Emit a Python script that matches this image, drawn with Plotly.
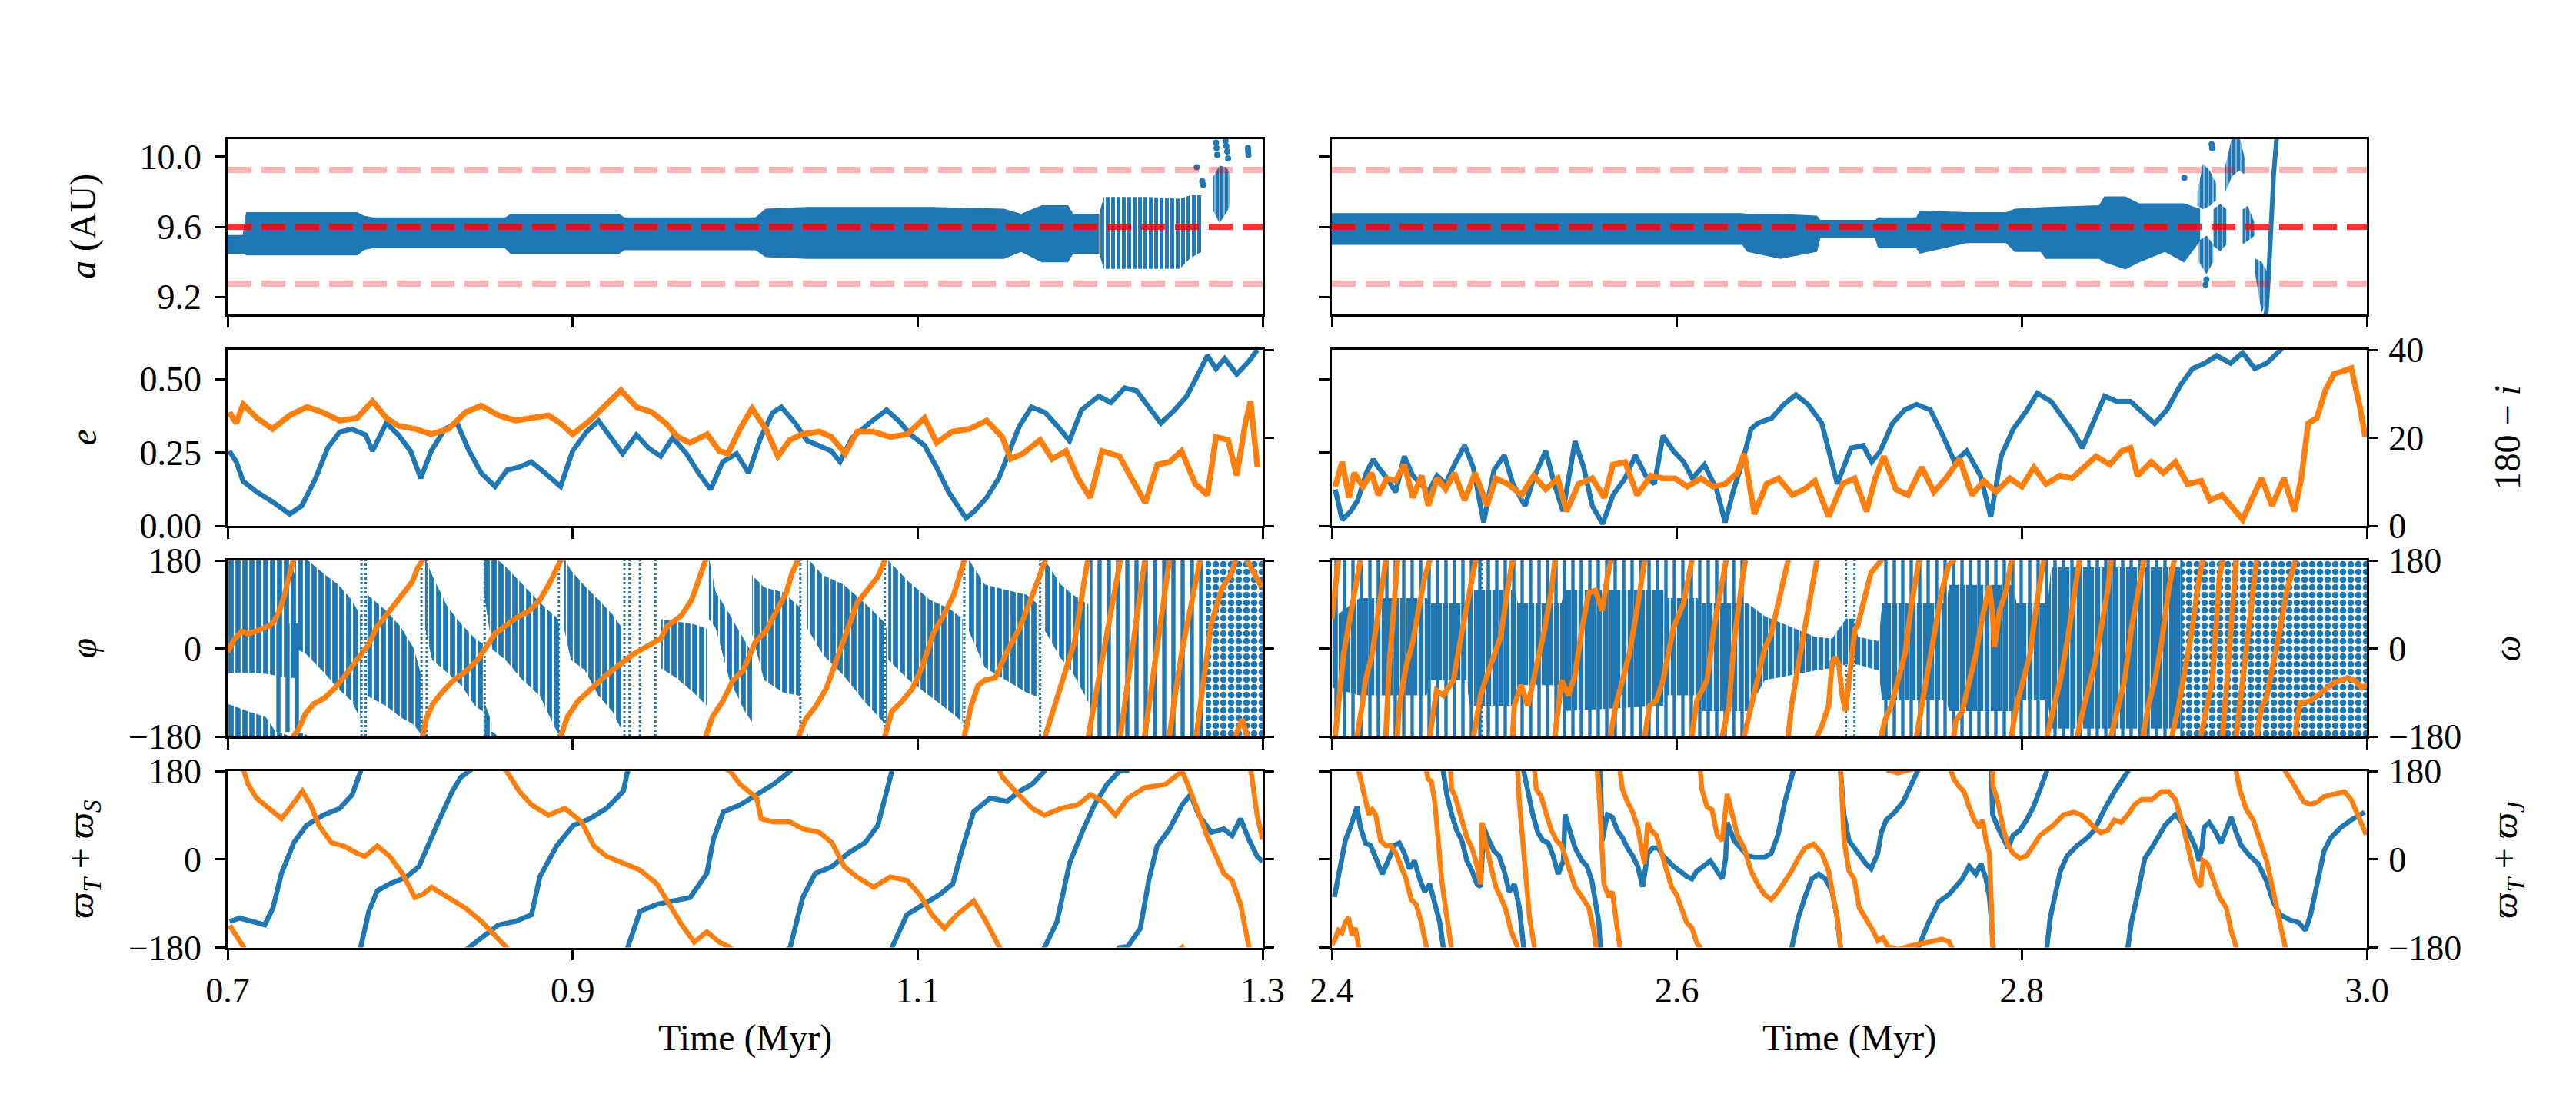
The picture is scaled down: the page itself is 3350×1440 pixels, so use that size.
import numpy as np
import plotly.graph_objects as go

# ======================= DATA =======================
# ---- Panel 1: semi-major axis a (AU); blue band envelopes ----
aL_t  = [0.700, 0.709, 0.711, 0.775, 0.779, 0.784, 0.861, 0.864, 0.927, 0.930,
         1.006, 1.012, 1.036, 1.108, 1.150, 1.160, 1.172, 1.187, 1.190, 1.205]
aL_lo = [9.45, 9.45, 9.44, 9.44, 9.47, 9.48, 9.48, 9.45, 9.45, 9.47,
         9.47, 9.43, 9.42, 9.42, 9.42, 9.46, 9.40, 9.40, 9.45, 9.45]
aL_hi = [9.55, 9.55, 9.68, 9.68, 9.66, 9.65, 9.65, 9.67, 9.67, 9.65,
         9.65, 9.70, 9.71, 9.71, 9.70, 9.67, 9.72, 9.72, 9.67, 9.67]
aLx_t  = [1.205, 1.208, 1.234, 1.252, 1.258, 1.265]     # loose, scattered part
aLx_lo = [9.45, 9.36, 9.36, 9.36, 9.42, 9.46]
aLx_hi = [9.67, 9.77, 9.77, 9.76, 9.78, 9.78]
aLc_t  = [1.271, 1.275, 1.279, 1.281]
aLc_lo = [9.70, 9.62, 9.68, 9.72]
aLc_hi = [9.88, 9.95, 9.94, 9.90]
aLp_t = [1.2618, 1.2650, 1.2655, 1.2730, 1.2733, 1.2737, 1.2785, 1.2790, 1.2795, 1.2800, 1.2915, 1.2916, 1.2918]
aLp_a = [9.94, 9.86, 9.84, 10.08, 10.05, 10.01, 10.09, 10.06, 10.03, 9.99, 10.05, 10.03, 10.01]

aR_t  = [2.400, 2.638, 2.641, 2.660, 2.681, 2.683, 2.715, 2.717, 2.739, 2.741,
         2.768, 2.791, 2.796, 2.811, 2.814, 2.845, 2.848, 2.860, 2.868, 2.883,
         2.894, 2.903]
aR_lo = [9.50, 9.50, 9.46, 9.42, 9.46, 9.54, 9.54, 9.48, 9.48, 9.45,
         9.51, 9.51, 9.46, 9.46, 9.42, 9.42, 9.40, 9.36, 9.40, 9.46,
         9.40, 9.52]
aR_hi = [9.675, 9.675, 9.67, 9.67, 9.66, 9.636, 9.636, 9.65, 9.65, 9.69,
         9.68, 9.68, 9.70, 9.71, 9.71, 9.72, 9.77, 9.77, 9.73, 9.73,
         9.73, 9.70]
aRc_t  = [2.9018, 2.905, 2.909, 2.9125, None, 2.9025, 2.907, 2.911, None,
          2.911, 2.915, 2.9186, None, 2.918, 2.922, 2.926, 2.929, None,
          2.928, 2.931, 2.935, None, 2.935, 2.939, 2.943]
aRc_lo = [9.72, 9.70, 9.72, 9.75, None, 9.40, 9.33, 9.40, None,
          9.49, 9.46, 9.50, None, 9.80, 9.89, 9.92, 9.90, None,
          9.50, 9.52, 9.55, None, 9.35, 9.11, 9.20]
aRc_hi = [9.80, 9.96, 9.92, 9.85, None, 9.52, 9.55, 9.50, None,
          9.70, 9.73, 9.70, None, 9.95, 10.12, 10.12, 10.00, None,
          9.70, 9.72, 9.62, None, 9.42, 9.40, 9.33]
aRr_t = [2.9405, 2.9417, 2.9432, 2.9447, 2.9460, 2.9478]
aRr_a = [9.08, 9.11, 9.35, 9.65, 9.90, 10.12]
aRp_t = [2.8942, 2.9100, 2.9103, 2.9065, 2.9070]
aRp_a = [9.88, 10.07, 10.05, 9.27, 9.30]
a_res = [9.275, 9.600, 9.925]          # dashed reference lines

# ---- Panel 2: eccentricity e (blue) and 180 - i (orange) ----
eL_t = [0.701, 0.705, 0.709, 0.717, 0.726, 0.736, 0.743, 0.751, 0.758, 0.765,
        0.772, 0.780, 0.784, 0.792, 0.799, 0.806, 0.812, 0.818, 0.826, 0.833,
        0.840, 0.847, 0.855, 0.862, 0.869, 0.876, 0.884, 0.893, 0.900, 0.908,
        0.915, 0.922, 0.929, 0.937, 0.944, 0.951, 0.958, 0.966, 0.973, 0.980,
        0.987, 0.995, 1.002, 1.009, 1.016, 1.021, 1.029, 1.036, 1.043, 1.050,
        1.055, 1.062, 1.072, 1.082, 1.089, 1.096, 1.104, 1.111, 1.118, 1.125,
        1.128, 1.133, 1.140, 1.147, 1.152, 1.159, 1.166, 1.174, 1.181, 1.188,
        1.195, 1.205, 1.212, 1.220, 1.227, 1.234, 1.241, 1.249, 1.256, 1.261,
        1.268, 1.273, 1.278, 1.285, 1.292, 1.297]
eL_v = [0.255, 0.218, 0.152, 0.115, 0.082, 0.040, 0.068, 0.162, 0.265, 0.320,
        0.330, 0.310, 0.255, 0.350, 0.310, 0.255, 0.162, 0.255, 0.330, 0.350,
        0.255, 0.180, 0.134, 0.190, 0.200, 0.218, 0.180, 0.134, 0.255, 0.320,
        0.358, 0.300, 0.246, 0.310, 0.265, 0.237, 0.300, 0.246, 0.180, 0.124,
        0.218, 0.246, 0.180, 0.300, 0.386, 0.405, 0.350, 0.290, 0.274, 0.255,
        0.218, 0.300, 0.350, 0.395, 0.358, 0.310, 0.274, 0.199, 0.115, 0.050,
        0.026, 0.050, 0.096, 0.162, 0.237, 0.340, 0.405, 0.386, 0.340, 0.290,
        0.395, 0.442, 0.420, 0.470, 0.460, 0.405, 0.350, 0.395, 0.442, 0.498,
        0.580, 0.535, 0.570, 0.517, 0.560, 0.600]
iL_t = [0.701, 0.705, 0.709, 0.717, 0.726, 0.736, 0.746, 0.755, 0.765, 0.775,
        0.784, 0.792, 0.799, 0.809, 0.818, 0.828, 0.838, 0.847, 0.857, 0.867,
        0.876, 0.886, 0.893, 0.900, 0.910, 0.920, 0.928, 0.937, 0.946, 0.954,
        0.961, 0.968, 0.978, 0.985, 0.990, 0.997, 1.004, 1.012, 1.019, 1.026,
        1.033, 1.043, 1.050, 1.058, 1.065, 1.074, 1.084, 1.094, 1.104, 1.111,
        1.120, 1.130, 1.140, 1.149, 1.154, 1.161, 1.171, 1.178, 1.186, 1.193,
        1.200, 1.207, 1.217, 1.224, 1.232, 1.239, 1.246, 1.253, 1.261, 1.268,
        1.273, 1.280, 1.285, 1.290, 1.293, 1.297]
iL_v = [25.8, 23.3, 27.6, 24.5, 22.0, 25.1, 27.0, 25.8, 23.9, 24.5,
        28.3, 24.5, 22.7, 22.0, 20.8, 22.0, 25.8, 27.3, 25.1, 23.9,
        24.5, 25.1, 23.3, 20.8, 23.9, 27.6, 30.8, 27.0, 25.8, 23.3,
        20.2, 18.9, 20.8, 17.0, 16.4, 22.0, 26.7, 22.0, 15.8, 19.5,
        20.8, 21.4, 20.2, 16.4, 21.4, 21.4, 20.2, 20.8, 24.5, 18.9,
        21.4, 22.0, 23.9, 20.2, 15.2, 16.4, 19.5, 15.2, 17.0, 10.8,
        6.4, 17.0, 15.8, 10.8, 5.2, 13.9, 14.5, 17.0, 9.5, 7.0,
        20.2, 19.5, 11.4, 23.3, 28.3, 13.3]
eR_t = [2.402, 2.406, 2.411, 2.415, 2.420, 2.424, 2.427, 2.432, 2.437, 2.442,
        2.447, 2.452, 2.456, 2.461, 2.466, 2.471, 2.477, 2.482, 2.488, 2.494,
        2.500, 2.505, 2.512, 2.517, 2.524, 2.529, 2.534, 2.541, 2.546, 2.551,
        2.557, 2.563, 2.570, 2.576, 2.582, 2.587, 2.592, 2.598, 2.604, 2.609,
        2.616, 2.623, 2.628, 2.633, 2.638, 2.643, 2.647, 2.655, 2.662, 2.669,
        2.676, 2.684, 2.688, 2.693, 2.701, 2.708, 2.713, 2.718, 2.725, 2.732,
        2.739, 2.747, 2.754, 2.761, 2.768, 2.776, 2.782, 2.788, 2.795, 2.802,
        2.809, 2.817, 2.824, 2.831, 2.835, 2.841, 2.848, 2.855, 2.863, 2.870,
        2.877, 2.884, 2.892, 2.899, 2.906, 2.913, 2.921, 2.928, 2.935, 2.942,
        2.950, 2.953]
eR_v = [0.124, 0.020, 0.050, 0.087, 0.180, 0.227, 0.199, 0.162, 0.115, 0.237,
        0.171, 0.143, 0.115, 0.171, 0.143, 0.208, 0.274, 0.199, 0.012, 0.190,
        0.240, 0.143, 0.068, 0.162, 0.255, 0.143, 0.050, 0.288, 0.199, 0.068,
        0.007, 0.105, 0.162, 0.240, 0.171, 0.143, 0.307, 0.255, 0.218, 0.162,
        0.208, 0.124, 0.012, 0.124, 0.218, 0.330, 0.350, 0.367, 0.414, 0.447,
        0.414, 0.350, 0.255, 0.143, 0.265, 0.274, 0.218, 0.255, 0.349, 0.395,
        0.414, 0.395, 0.310, 0.218, 0.255, 0.171, 0.030, 0.237, 0.330, 0.386,
        0.452, 0.424, 0.367, 0.310, 0.265, 0.349, 0.442, 0.424, 0.424, 0.386,
        0.349, 0.395, 0.480, 0.536, 0.554, 0.580, 0.554, 0.590, 0.536, 0.554,
        0.600, 0.630]
iR_t = [2.402, 2.406, 2.410, 2.413, 2.418, 2.423, 2.427, 2.432, 2.437, 2.442,
        2.447, 2.452, 2.456, 2.461, 2.466, 2.471, 2.477, 2.483, 2.490, 2.495,
        2.502, 2.510, 2.517, 2.524, 2.531, 2.536, 2.543, 2.551, 2.558, 2.563,
        2.570, 2.577, 2.585, 2.592, 2.599, 2.606, 2.614, 2.621, 2.628, 2.635,
        2.639, 2.645, 2.652, 2.659, 2.667, 2.674, 2.680, 2.688, 2.696, 2.703,
        2.710, 2.715, 2.720, 2.727, 2.734, 2.742, 2.749, 2.756, 2.764, 2.771,
        2.778, 2.785, 2.793, 2.800, 2.807, 2.814, 2.822, 2.829, 2.836, 2.843,
        2.851, 2.858, 2.863, 2.867, 2.875, 2.882, 2.889, 2.896, 2.904, 2.909,
        2.916, 2.923, 2.928, 2.933, 2.939, 2.945, 2.952, 2.958, 2.962, 2.966,
        2.971, 2.976, 2.981, 2.986, 2.991, 2.996, 2.999]
iR_v = [8.9, 14.5, 6.4, 12.0, 8.9, 12.0, 7.0, 10.8, 10.2, 13.9,
        6.4, 11.4, 4.6, 10.8, 8.3, 12.0, 5.8, 12.0, 4.6, 10.8,
        9.5, 7.0, 11.4, 8.3, 10.8, 3.3, 9.5, 10.8, 6.4, 13.9,
        14.5, 7.0, 11.4, 10.8, 10.8, 8.9, 10.8, 8.9, 9.5, 12.0,
        16.4, 2.7, 9.5, 10.8, 7.0, 8.3, 10.2, 2.1, 9.5, 10.8,
        3.3, 10.8, 15.8, 8.3, 7.0, 13.3, 7.7, 10.8, 15.2, 7.0,
        10.2, 7.7, 10.8, 8.9, 13.3, 9.5, 11.4, 10.8, 13.3, 15.8,
        13.9, 17.0, 17.7, 11.4, 14.5, 12.0, 14.5, 9.5, 10.2, 5.8,
        7.0, 3.9, 1.4, 5.8, 10.8, 4.6, 10.8, 3.3, 10.8, 23.3,
        24.5, 30.8, 34.5, 35.1, 35.8, 27.0, 20.2]

# ---- Panel 3: resonant angle phi (blue, dense libration bands) ----
# band polygons: time, lower and upper envelope (deg, may exceed 180 -> wraps)
phiL_t  = [0.700, 0.712, 0.722, 0.727, 0.736, 0.739, None,
           0.739, 0.745, 0.756, 0.764, 0.772, 0.777, None,
           0.781, 0.792, 0.800, 0.808, 0.813, None,
           0.8145, 0.8185, 0.8275, 0.8355, 0.8435, 0.848, None,
           0.849, 0.853, None,
           0.8485, 0.8535, 0.861, 0.871, 0.881, 0.891, 0.893, None,
           0.895, 0.899, 0.907, 0.915, 0.923, 0.929, None,
           0.951, 0.960, 0.970, 0.978, None,
           0.979, 0.983, 0.991, 1.000, 1.004, None,
           1.004, 1.011, 1.022, 1.032, None,
           1.036, 1.045, 1.057, 1.069, 1.080, 1.082, None,
           1.083, 1.095, 1.107, 1.119, 1.126, None,
           1.129, 1.139, 1.151, 1.163, 1.170, None,
           1.173, 1.183, 1.190, 1.199]
phiL_lo = [-50, -50, -52, -55, -60, -60, None,
           0, -10, -50, -82, -108, -145, None,
           -97, -118, -140, -156, -180, None,
           41, -23, -50, -76, -118, -129, None,
           -180, -180, None,
           115, -2, -23, -65, -97, -171, -180, None,
           41, -23, -44, -97, -129, -171, None,
           -40, -60, -90, -118, None,
           60, 41, -65, -130, -150, None,
           30, -65, -90, -97, None,
           41, -12, -55, -108, -150, -175, None,
           -23, -65, -97, -130, -150, None,
           41, -39, -65, -90, -100, None,
           41, -20, -50, -110]
phiL_hi = [247, 231, 220, 194, 180, 150, None,
           190, 185, 152, 131, 99, 67, None,
           110, 77, 46, 0, -65, None,
           185, 150, 85, 50, 20, 10, None,
           -112, -150, None,
           185, 190, 168, 131, 94, 62, 40, None,
           185, 160, 128, 100, 70, 40, None,
           60, 55, 50, 40, None,
           185, 115, 70, 14, -10, None,
           150, 125, 115, 83, None,
           185, 150, 131, 94, 56, 40, None,
           180, 136, 100, 80, 60, None,
           185, 131, 120, 110, 90, None,
           185, 131, 110, 90]
phiL_sparse_t  = [0.727, 0.744, None, 1.200, 1.267]
phiL_sparse_lo = [-171, -171, None, -180, -180]
phiL_sparse_hi = [51, 51, None, 180, 180]
phiL_chaos_t = [1.267, 1.300]
phiL_lines = [0.7776, 0.7800, 0.8124, 0.8154, 0.8490, 0.8920, 0.9300, 0.9330,
              0.9390, 0.9480, 1.0320, 1.0810, 1.1270, 1.1710]

phiR_core_t  = [2.400, 2.416, 2.455, 2.457, 2.478, 2.480, 2.506, 2.508, 2.533, 2.535,
                2.592, 2.594, 2.612, 2.614, 2.641, 2.651, 2.680, 2.690, 2.698, 2.703,
                2.705, 2.717, 2.719, 2.756, 2.758, 2.795, 2.797, 2.815, 2.817, 2.893]
phiR_core_lo = [-80, -96, -96, -65, -65, -117, -117, -75, -75, -128,
                -117, -96, -96, -128, -128, -65, -45, -40, -33, -33,
                -33, -45, -106, -106, -128, -128, -106, -106, -164, -164]
phiR_core_hi = [60, 103, 103, 92, 92, 119, 119, 92, 92, 119,
                119, 103, 103, 92, 92, 66, 24, 20, 61, 61,
                24, 15, 92, 92, 130, 130, 92, 92, 166, 166]
phiR_outer_t  = [2.400, 2.641, None, 2.718, 2.893]
phiR_outer_lo = [-180, -180, None, -180, -180]
phiR_outer_hi = [180, 180, None, 180, 180]
phiR_chaos_t = [2.893, 3.000]
phiR_lines = [2.4025, 2.4870, 2.5350, 2.6980, 2.7030]

# ---- Panel 3: omega (orange), readings in [-180, 180] ----
wL_t = [0.700, 0.704, 0.708, 0.712, 0.716, 0.720, 0.724, 0.727, 0.730, 0.733,
        0.736, 0.738, 0.741, 0.745, 0.750, 0.756, 0.762, 0.768, 0.774, 0.778,
        0.782, 0.786, 0.792, 0.798, 0.803, 0.807, 0.810, 0.813, 0.815, 0.819,
        0.825, 0.831, 0.839, 0.845, 0.849, 0.855, 0.861, 0.867, 0.875, 0.881,
        0.887, 0.891, 0.893, 0.897, 0.903, 0.911, 0.919, 0.927, 0.935, 0.943,
        0.951, 0.955, 0.963, 0.969, 0.973, 0.977, 0.981, 0.987, 0.993, 0.999,
        1.006, 1.012, 1.018, 1.024, 1.027, 1.031, 1.035, 1.041, 1.047, 1.053,
        1.059, 1.065, 1.071, 1.077, 1.081, 1.085, 1.091, 1.097, 1.103, 1.109,
        1.115, 1.121, 1.127, 1.131, 1.135, 1.139, 1.145, 1.151, 1.159, 1.165,
        1.171, 1.174, 1.179, 1.185, 1.191, 1.197, 1.199, 1.2035, 1.208, 1.2125,
        1.2175, 1.221, 1.2245, 1.228, 1.2315, 1.235, 1.2385, 1.242, 1.2455, 1.2495,
        1.2535, 1.2575, 1.2615, 1.2663, 1.2702, 1.2762, 1.2822, 1.2842, 1.2882, 1.2911,
        1.2941, 1.2981, 1.2995]
wL_v = [-7, 19, 35, 30, 35, 41, 46, 56, 77, 110,
        152, 180, -166, -134, -113, -102, -82, -56, -29, -12,
        9, 41, 67, 94, 115, 136, 163, 180, -145, -113,
        -87, -65, -44, -23, -2, 30, 46, 62, 77, 99,
        136, 168, 180, -140, -108, -82, -56, -34, -12, 4,
        20, 46, 67, 99, 136, 180, -140, -108, -65, -44,
        14, 35, 77, 115, 152, 180, -145, -118, -82, -23,
        41, 94, 120, 147, 180, -129, -108, -82, -34, 30,
        67, 110, 180, -118, -76, -65, -60, -12, 41, 94,
        147, 180, -118, -56, 14, 147, 180, -90, 0, 90,
        180, -90, 0, 90, 180, -90, 0, 90, 180, -90,
        0, 90, 180, -55, 50, 120, 155, 180, -145, 180,
        160, 130, 125]
wR_t = [2.3999, 2.4019, 2.4038, 2.4068, 2.4107, 2.4136, 2.4146,
        2.4176, 2.4195, 2.4234, 2.4274, 2.4303, 2.4313,
        2.4332, 2.4352, 2.4372, 2.4381,
        2.4391, 2.4430, 2.4470, 2.4509, 2.4538, 2.4568,
        2.4607, 2.4646, 2.4705, 2.4744, 2.4783, 2.4822,
        2.4862, 2.4901, 2.4979, 2.5018, 2.5048,
        2.5058, 2.5097, 2.5136, 2.5175, 2.5234, 2.5273, 2.5293,
        2.5312, 2.5332, 2.5371, 2.5410, 2.5450, 2.5489, 2.5528, 2.5567, 2.5597, 2.5616,
        2.5646, 2.5685, 2.5724, 2.5763, 2.5802, 2.5812,
        2.5842, 2.5881, 2.5920, 2.5979, 2.6038, 2.6087,
        2.6116, 2.6175, 2.6214, 2.6253, 2.6263,
        2.6302, 2.6332, 2.6371, 2.6390,
        2.6410, 2.6469, 2.6508, 2.6547, 2.6586, 2.6626, 2.6645,
        2.6665, 2.6704, 2.6743, 2.6782, 2.6812,
        2.6841, 2.6880, 2.6900, 2.6920, 2.6939, 2.6959, 2.6978, 2.6998, 2.7033,
        2.7047, 2.7087, 2.7126, 2.7185,
        2.7204, 2.7243, 2.7283, 2.7322, 2.7361, 2.7390,
        2.7420, 2.7459, 2.7498, 2.7537, 2.7577, 2.7606,
        2.7616, 2.7655, 2.7694, 2.7733, 2.7773, 2.7812, 2.7831, 2.7841, 2.7871, 2.7910, 2.7939,
        2.7969, 2.8008, 2.8047, 2.8086, 2.8145,
        2.8184, 2.8223, 2.8263, 2.8302, 2.8321,
        2.8361, 2.8419, 2.8459, 2.8498, 2.8517,
        2.8557, 2.8596, 2.8635, 2.8674, 2.8704,
        2.8733, 2.8772, 2.8811, 2.8851, 2.8870,
        2.8909, 2.8949, 2.8988, 2.9017, 2.9037,
        2.9076, 2.9105, 2.9125, 2.9145, 2.9164,
        2.9184, 2.9203, 2.9223, 2.9243,
        2.9272, 2.9302, 2.9331, 2.9361,
        2.9390, 2.9419, 2.9497, 2.9537, 2.9586,
        2.9595, 2.9615, 2.9674, 2.9752, 2.9811, 2.9889, 2.9929, 2.9968, 2.9987, 3.0000]
wR_v = [60, 180, -117, -12, 66, 155, 180,
        -117, -65, -12, 92, 166, 180,
        -38, 40, 145, 180,
        -117, -38, 14, 92, 145, 180,
        -86, -96, -65, 14, 92, 180,
        -96, -54, 24, 119, 180,
        -117, -75, -117, -54, 40, 119, 180,
        -117, -65, -96, -54, 40, 113, 119, 77, 145, 180,
        -117, -65, -12, 66, 155, 180,
        -117, -107, -65, 40, 92, 180,
        -107, -65, 40, 145, 180,
        -117, 14, 119, 180,
        -149, -54, -2, 30, 92, 145, 180,
        -117, -33, 40, 119, 180,
        -159, -117, -28, -18, -33, -96, -128, -65, 40,
        45, 103, 155, 180,
        -149, -117, -65, -12, 92, 180,
        -117, -38, 40, 119, 171, 180,
        -149, -128, -65, -12, 66, 129, 66, 3, 77, 119, 180,
        -117, -65, -12, 92, 180,
        -117, -65, 14, 119, 180,
        -117, -38, 40, 119, 180,
        -117, -65, 40, 119, 180,
        -117, -65, 14, 119, 180,
        -117, -38, 40, 119, 180,
        -117, -65, 40, 145, 180,
        -90, 0, 90, 180,
        -90, 0, 90, 180,
        -120, -100, 40, 119, 180,
        -143, -112, -107, -86, -70, -60, -65, -80, -75, -75]

# ---- Panel 4: varpi_T + varpi_S (blue) and varpi_T + varpi_J (orange) ----
pSL_t = [0.7012, 0.7070, 0.7143, 0.7215, 0.7263, 0.7312, 0.7384, 0.7457, 0.7554, 0.7650,
         0.7723, 0.7771, 0.7819, 0.7868, 0.7940, 0.8037, 0.8109, 0.8158, 0.8230, 0.8303,
         0.8351, 0.8400, 0.8472, 0.8569, 0.8666, 0.8762, 0.8810, 0.8907, 0.9004, 0.9101,
         0.9197, 0.9294, 0.9319, 0.9391, 0.9488, 0.9584, 0.9681, 0.9778, 0.9816, 0.9874,
         0.9971, 1.0068, 1.0164, 1.0261, 1.0334, 1.0406, 1.0503, 1.0600, 1.0696, 1.0769,
         1.0817, 1.0851, 1.0938, 1.1035, 1.1131, 1.1204, 1.1252, 1.1325, 1.1421, 1.1518,
         1.1591, 1.1663, 1.1736, 1.1808, 1.1881, 1.1953, 1.2025, 1.2098, 1.2170, 1.2218,
         1.2291, 1.2340, 1.2388, 1.2461, 1.2533, 1.2582, 1.2630, 1.2703, 1.2775, 1.2823,
         1.2872, 1.2920, 1.2968, 1.3000]
pSL_v = [-127, -120, -127, -134, -99, -29, 34, 69, 90, 104,
         132, 180, -106, -64, -50, -36, -15, 27, 83, 139,
         167, 180, -160, -134, -127, -113, -36, 27, 69, 83,
         104, 139, 180, -106, -92, -85, -78, -29, 41, 97,
         111, 132, 153, 180, -78, -29, -15, 13, 34, 69,
         139, 180, -113, -92, -71, -50, 13, 97, 125, 118,
         139, 153, 180, -127, -8, 55, 111, 153, 180, -178,
         -141, -43, 27, 62, 111, 132, 90, 55, 62, 48,
         83, 41, 6, -5]
pJL_t = [0.7012, 0.7060, 0.7094, 0.7119, 0.7167, 0.7239, 0.7312, 0.7360, 0.7433, 0.7481,
         0.7529, 0.7602, 0.7674, 0.7747, 0.7795, 0.7868, 0.7940, 0.8013, 0.8085, 0.8134,
         0.8182, 0.8279, 0.8376, 0.8472, 0.8545, 0.8617, 0.8690, 0.8762, 0.8859, 0.8955,
         0.9052, 0.9124, 0.9197, 0.9294, 0.9391, 0.9488, 0.9560, 0.9633, 0.9705, 0.9778,
         0.9850, 0.9913, 0.9971, 1.0068, 1.0092, 1.0164, 1.0261, 1.0334, 1.0430, 1.0503,
         1.0575, 1.0648, 1.0745, 1.0841, 1.0938, 1.1010, 1.1083, 1.1155, 1.1228, 1.1325,
         1.1397, 1.1470, 1.1494, 1.1566, 1.1663, 1.1736, 1.1833, 1.1929, 1.2002, 1.2074,
         1.2147, 1.2219, 1.2316, 1.2437, 1.2533, 1.2582, 1.2678, 1.2775, 1.2823, 1.2872,
         1.2920, 1.2935, 1.2968, 1.3000]
pJL_v = [-135, -160, 180, 153, 125, 104, 83, 104, 139, 111,
         69, 34, 27, 13, 6, 27, 6, -29, -78, -71,
         -57, -78, -99, -127, -155, -180, 139, 111, 90, 104,
         76, 27, 6, -8, -22, -50, -92, -134, -169, -148,
         -169, -180, 153, 125, 83, 76, 76, 62, 55, 34,
         -15, -36, -57, -36, -43, -71, -113, -141, -113, -85,
         -127, -180, 167, 139, 104, 90, 104, 111, 132, 118,
         90, 125, 146, 153, 180, 139, 48, -29, -43, -92,
         -169, 175, 90, 40]
pSR_t = [2.4015, 2.4048, 2.4078, 2.4107, 2.4146, 2.4166, 2.4195, 2.4225, 2.4254, 2.4293,
         2.4332, 2.4362, 2.4391, 2.4421, 2.4450, 2.4479, 2.4509, 2.4538, 2.4568, 2.4597,
         2.4626, 2.4646, 2.4666, 2.4695, 2.4724, 2.4754, 2.4783, 2.4813, 2.4842, 2.4862,
         2.4881, 2.4911, 2.4940, 2.4969, 2.4999, 2.5028, 2.5058, 2.5087, 2.5107, 2.5112,
         2.5136, 2.5165, 2.5195, 2.5224, 2.5254, 2.5283, 2.5312, 2.5342, 2.5352, 2.5381,
         2.5410, 2.5450, 2.5479, 2.5508, 2.5528, 2.5548, 2.5557, 2.5567, 2.5597, 2.5626,
         2.5655, 2.5685, 2.5714, 2.5744, 2.5773, 2.5802, 2.5832, 2.5861, 2.5891, 2.5920,
         2.5949, 2.5979, 2.6018, 2.6057, 2.6087, 2.6116, 2.6155, 2.6194, 2.6234, 2.6263,
         2.6283, 2.6292, 2.6332, 2.6371, 2.6410, 2.6449, 2.6508, 2.6547, 2.6586, 2.6626,
         2.6665, 2.6704, 2.6743, 2.6782, 2.6822, 2.6861, 2.6900, 2.6929, 2.6949, 2.6959,
         2.6969, 2.6998, 2.7028, 2.7057, 2.7096, 2.7126, 2.7165, 2.7185, 2.7214, 2.7263,
         2.7312, 2.7361, 2.7400, 2.7459, 2.7518, 2.7577, 2.7616, 2.7655, 2.7694, 2.7733,
         2.7763, 2.7792, 2.7812, 2.7822, 2.7831, 2.7861, 2.7890, 2.7920, 2.7949, 2.7988,
         2.8027, 2.8067, 2.8106, 2.8145, 2.8165, 2.8194, 2.8223, 2.8263, 2.8321, 2.8380,
         2.8419, 2.8478, 2.8537, 2.8615, 2.8635, 2.8674, 2.8713, 2.8753, 2.8792, 2.8831,
         2.8890, 2.8929, 2.8969, 2.9008, 2.9027, 2.9047, 2.9056, 2.9086, 2.9125, 2.9154,
         2.9184, 2.9213, 2.9243, 2.9272, 2.9321, 2.9370, 2.9419, 2.9458, 2.9497, 2.9556,
         2.9605, 2.9644, 2.9674, 2.9713, 2.9752, 2.9791, 2.9850, 2.9909, 2.9968, 2.9987]
pSR_v = [-77, -14, 38, 65, 107, 65, 33, 28, 2, -30,
         2, 28, 33, 12, -19, -3, -40, -66, -51, -87,
         -129, -180, 133, 91, 59, 38, -3, -24, -51, -56,
         65, 38, 17, 7, -24, -66, -51, -98, -171, -180,
         143, 91, 54, 38, 33, 7, -30, -3, 91, 59,
         23, -3, -14, -45, -87, -129, -180, 38, 91, 86,
         59, 44, 23, 7, -14, -56, 12, 23, 23, 7,
         -3, -14, -24, -35, -40, -24, -14, -3, -24, -40,
         2, 75, 38, 23, 7, 4, 4, 12, 49, 117,
         180, -119, -77, -40, -30, -40, -66, -119, -180, 117,
         91, 38, 23, 7, -9, -19, 12, 54, 80, 96,
         117, 154, 180, -129, -87, -72, -56, -40, -14, -30,
         -9, -40, -77, -180, 91, 65, 44, 23, 49, 59,
         80, 107, 143, 180, -119, -66, -24, 7, 28, 44,
         59, 101, 138, 180, -129, -66, 2, 23, 49, 70,
         91, 75, 54, 23, -3, 28, 65, 75, 54, 33,
         59, 86, 54, 28, 7, -9, -45, -87, -113, -124,
         -129, -145, -113, -51, 17, 44, 65, 80, 91, 96]
pJR_t = [2.3999, 2.4015, 2.4038, 2.4058, 2.4078, 2.4097, 2.4117, 2.4136, 2.4156, 2.4176,
         2.4195, 2.4215, 2.4234, 2.4254, 2.4283, 2.4313, 2.4342, 2.4372, 2.4401, 2.4430,
         2.4460, 2.4489, 2.4519, 2.4538, 2.4548, 2.4558, 2.4577, 2.4597, 2.4617, 2.4636,
         2.4656, 2.4675, 2.4689, 2.4695, 2.4715, 2.4744, 2.4764, 2.4783, 2.4813, 2.4842,
         2.4862, 2.4871, 2.4891, 2.4920, 2.4950, 2.4979, 2.5009, 2.5038, 2.5067, 2.5077,
         2.5087, 2.5107, 2.5126, 2.5146, 2.5175, 2.5185, 2.5214, 2.5244, 2.5273, 2.5303,
         2.5332, 2.5371, 2.5410, 2.5450, 2.5489, 2.5518, 2.5538, 2.5548, 2.5563, 2.5577,
         2.5606, 2.5626, 2.5646, 2.5665, 2.5685, 2.5714, 2.5744, 2.5773, 2.5793, 2.5812,
         2.5832, 2.5851, 2.5881, 2.5910, 2.5940, 2.5969, 2.5998, 2.6028, 2.6057, 2.6087,
         2.6116, 2.6136, 2.6145, 2.6175, 2.6204, 2.6234, 2.6263, 2.6292, 2.6322, 2.6351,
         2.6390, 2.6430, 2.6469, 2.6508, 2.6547, 2.6586, 2.6626, 2.6665, 2.6704, 2.6743,
         2.6792, 2.6841, 2.6880, 2.6910, 2.6929, 2.6949, 2.6959, 2.6969, 2.6998, 2.7028,
         2.7057, 2.7096, 2.7136, 2.7165, 2.7194, 2.7224, 2.7283, 2.7341, 2.7420, 2.7479,
         2.7537, 2.7577, 2.7606, 2.7635, 2.7665, 2.7694, 2.7724, 2.7753, 2.7773, 2.7792,
         2.7812, 2.7824, 2.7828, 2.7833, 2.7861, 2.7890, 2.7920, 2.7949, 2.7988, 2.8027,
         2.8067, 2.8106, 2.8145, 2.8184, 2.8243, 2.8302, 2.8341, 2.8380, 2.8419, 2.8459,
         2.8498, 2.8537, 2.8576, 2.8615, 2.8655, 2.8694, 2.8753, 2.8811, 2.8851, 2.8890,
         2.8929, 2.8969, 2.9008, 2.9037, 2.9051, 2.9076, 2.9105, 2.9145, 2.9184, 2.9213,
         2.9243, 2.9262, 2.9302, 2.9341, 2.9380, 2.9419, 2.9458, 2.9497, 2.9527, 2.9556,
         2.9595, 2.9635, 2.9674, 2.9713, 2.9752, 2.9811, 2.9870, 2.9909, 2.9948, 2.9987,
         2.9997]
pJR_v = [-175, -166, -145, -150, -129, -119, -155, -140, -180, 149,
         117, 91, 101, 91, 38, 28, 28, 12, -14, -40,
         -82, -92, -129, -160, -180, 164, 159, 117, 38, -40,
         -92, -145, -180, 143, 128, 91, 65, 44, 23, -14,
         -51, 75, 33, -14, -56, -77, -103, -145, -171, -180,
         117, 38, -40, -119, -180, 143, 128, 91, 59, 38,
         28, -14, -56, -77, -98, -145, -180, 143, 40, -50,
         -77, -66, -119, -180, 143, 117, 96, 65, 23, -9,
         75, 59, 49, 17, -24, -56, -72, -98, -129, -140,
         -171, -180, 143, 107, 101, 49, 38, 133, 91, 49,
         23, -24, -51, -72, -82, -66, -45, -24, 2, 23,
         31, 12, -24, -77, -119, -180, 117, 38, -24, -40,
         -98, -119, -145, -166, -160, -178, -184, -178, -172, -168,
         -163, -168, -196, 149, 138, 107, 80, 65, 80, 38,
         12, -100, -180, 150, 117, 65, 28, 12, 2, 7,
         28, 49, 59, 70, 91, 96, 91, 80, 65, 54,
         59, 80, 75, 91, 112, 122, 122, 138, 138, 122,
         75, 17, -40, -56, -3, -9, -40, -77, -98, -145,
         -180, 143, 101, 80, 38, -3, -66, -134, -180, 164,
         143, 117, 112, 117, 128, 133, 138, 122, 91, 59,
         50]

# ============================ FIGURE BUILDING ============================
for name, a, b in [('aL', aL_t, aL_lo), ('aL2', aL_t, aL_hi), ('aR', aR_t, aR_lo), ('aR2', aR_t, aR_hi),
                   ('aLx', aLx_t, aLx_lo), ('aLx2', aLx_t, aLx_hi),
                   ('eL', eL_t, eL_v), ('iL', iL_t, iL_v), ('eR', eR_t, eR_v), ('iR', iR_t, iR_v),
                   ('phiL', phiL_t, phiL_lo), ('phiL2', phiL_t, phiL_hi), ('core', phiR_core_t, phiR_core_lo),
                   ('core2', phiR_core_t, phiR_core_hi), ('wL', wL_t, wL_v), ('wR', wR_t, wR_v),
                   ('pSL', pSL_t, pSL_v), ('pJL', pJL_t, pJL_v), ('pSR', pSR_t, pSR_v), ('pJR', pJR_t, pJR_v),
                   ('aRc', aRc_t, aRc_lo), ('aRc2', aRc_t, aRc_hi)]:
    assert len(a) == len(b), (name, len(a), len(b))

BLUE = '#1f77b4'
ORANGE = '#ff7f0e'
W, H = 3350, 1440
FONT = 'Liberation Serif, Times New Roman, serif'
XDOM = {1: [288 / W, 1634 / W], 2: [1724 / W, 3070 / W]}
YPIX = {1: (173, 401), 2: (447, 676), 3: (721, 950), 4: (995, 1224.5)}
XR = {1: [0.7, 1.3], 2: [2.4, 3.0]}
XT = {1: [0.7, 0.9, 1.1, 1.3], 2: [2.4, 2.6, 2.8, 3.0]}
YR = {1: [9.1, 10.1], 2: [0, 0.6], 3: [-180, 180], 4: [-180, 180]}
YT = {1: [9.2, 9.6, 10.0], 2: [0, 0.25, 0.5], 3: [-180, 0, 180], 4: [-180, 0, 180]}
YF = {1: '.1f', 2: '.2f', 3: 'd', 4: 'd'}
Y2R = {2: [0, 40], 3: [-180, 180], 4: [-180, 180]}
Y2T = {2: [0, 20, 40], 3: [-180, 0, 180], 4: [-180, 0, 180]}


def ydom(r):
    a, b = YPIX[r]
    return [1 - b / H, 1 - a / H]


def sfx(i):
    return '' if i == 1 else str(i)


def pid(r, c):
    return (r - 1) * 2 + c


def split_none(*cols):
    out, cur = [], [[] for _ in cols]
    for row in zip(*cols):
        if row[0] is None:
            if cur[0]:
                out.append(cur)
            cur = [[] for _ in cols]
        else:
            for k, v in enumerate(row):
                cur[k].append(v)
    if cur[0]:
        out.append(cur)
    return out


def band_polys(ts, lo, hi, shifts=(0,)):
    X, Y = [], []
    for t, l, h in split_none(ts, lo, hi):
        px = t + t[::-1]
        for s in shifts:
            py = [v + 360 * s for v in h] + [v + 360 * s for v in l[::-1]]
            X += px + [px[0], None]
            Y += py + [py[0], None]
    return X, Y


def wrap_line(ts, vs):
    u = np.unwrap(np.array(vs, float), period=360)
    smin = int(np.ceil((-180 - u.max()) / 360)) - 1
    smax = int(np.floor((180 - u.min()) / 360)) + 1
    X, Y = [], []
    for s in range(smin, smax + 1):
        X += list(ts) + [None]
        Y += list(u + 360 * s) + [None]
    return X, Y


fig = go.Figure()
layout = dict(template='none', width=W, height=H, margin=dict(l=0, r=0, t=0, b=0, pad=0),
              autosize=False, paper_bgcolor='white', plot_bgcolor='white', showlegend=False,
              font=dict(family=FONT, size=46, color='black'))

TF = dict(family=FONT, size=46, color='black')
common = dict(ticks='outside', ticklen=14, tickwidth=2.5, tickcolor='black', automargin=False,
              showgrid=False, zeroline=False, tickfont=TF)

for r in range(1, 5):
    for c in (1, 2):
        i = pid(r, c)
        layout['xaxis' + sfx(i)] = dict(domain=XDOM[c], anchor='y' + sfx(i), range=XR[c],
                                       tickvals=XT[c], tickformat='.1f', showticklabels=(r == 4),
                                       showline=True, linecolor='black', linewidth=2.5, mirror=True,
                                       ticklabelstandoff=0, **common)
        layout['yaxis' + sfx(i)] = dict(domain=ydom(r), anchor='x' + sfx(i), range=YR[r],
                                       tickvals=YT[r], tickformat=YF[r], showticklabels=(c == 1),
                                       showline=True, linecolor='black', linewidth=2.5, mirror=True,
                                       side='left', ticklabelstandoff=8, **common)
        if r >= 2:
            j = 8 + i
            layout['yaxis' + str(j)] = dict(overlaying='y' + sfx(i), anchor='x' + sfx(i), side='right',
                                           range=Y2R[r], tickvals=Y2T[r], tickformat='d',
                                           showticklabels=(c == 2), showline=False,
                                           ticklabelstandoff=4, **common)


def ax(r, c, sec=False):
    i = pid(r, c)
    return dict(xaxis='x' + sfx(i), yaxis=('y' + str(8 + i)) if sec else ('y' + sfx(i)))


def pattern_fill(X, Y, axes, shape='|', size=8, solidity=0.6):
    fig.add_trace(go.Scatter(x=X, y=Y, mode='lines', fill='toself', line=dict(width=0, color=BLUE),
                             fillcolor=BLUE, hoverinfo='skip',
                             fillpattern=dict(shape=shape, fgcolor=BLUE, bgcolor='rgba(0,0,0,0)',
                                              size=size, solidity=solidity), **axes))


def solid_fill(X, Y, axes):
    fig.add_trace(go.Scatter(x=X, y=Y, mode='lines', fill='toself', line=dict(width=1.5, color=BLUE),
                             fillcolor=BLUE, hoverinfo='skip', **axes))


# ---------------- Panel 1 ----------------
for c, (t, lo, hi) in {1: (aL_t, aL_lo, aL_hi), 2: (aR_t, aR_lo, aR_hi)}.items():
    X, Y = band_polys(t, lo, hi)
    solid_fill(X, Y, ax(1, c))
X, Y = band_polys(aLx_t, aLx_lo, aLx_hi)
pattern_fill(X, Y, ax(1, 1), size=7, solidity=0.7)
X, Y = band_polys(aLc_t, aLc_lo, aLc_hi)
pattern_fill(X, Y, ax(1, 1), size=6, solidity=0.85)
X, Y = band_polys(aRc_t, aRc_lo, aRc_hi)
pattern_fill(X, Y, ax(1, 2), size=6, solidity=0.85)
fig.add_trace(go.Scatter(x=aLp_t, y=aLp_a, mode='markers', marker=dict(size=8, color=BLUE), **ax(1, 1)))
fig.add_trace(go.Scatter(x=aRp_t, y=aRp_a, mode='markers', marker=dict(size=8, color=BLUE), **ax(1, 2)))
fig.add_trace(go.Scatter(x=aRr_t, y=aRr_a, mode='lines', line=dict(width=6, color=BLUE), **ax(1, 2)))
for c in (1, 2):
    for k, a in enumerate(a_res):
        col = 'rgba(255,0,0,0.8)' if k == 1 else 'rgba(255,0,0,0.3)'
        fig.add_trace(go.Scatter(x=XR[c], y=[a, a], mode='lines',
                                 line=dict(color=col, width=8, dash='31px,13px'), **ax(1, c)))

# ---------------- Panel 2 ----------------
fig.add_trace(go.Scatter(x=eL_t, y=eL_v, mode='lines', line=dict(width=6.5, color=BLUE), **ax(2, 1)))
fig.add_trace(go.Scatter(x=eR_t, y=eR_v, mode='lines', line=dict(width=6.5, color=BLUE), **ax(2, 2)))
fig.add_trace(go.Scatter(x=iL_t, y=iL_v, mode='lines', line=dict(width=7.5, color=ORANGE), **ax(2, 1, True)))
fig.add_trace(go.Scatter(x=iR_t, y=iR_v, mode='lines', line=dict(width=7.5, color=ORANGE), **ax(2, 2, True)))

# ---------------- Panel 3 ----------------
X, Y = band_polys(phiL_t, phiL_lo, phiL_hi, shifts=(-1, 0, 1))
pattern_fill(X, Y, ax(3, 1), size=9, solidity=0.75)
X, Y = band_polys(phiL_sparse_t, phiL_sparse_lo, phiL_sparse_hi)
pattern_fill(X, Y, ax(3, 1), size=12, solidity=0.45)
X, Y = band_polys(phiL_chaos_t, [-180, -180], [180, 180])
pattern_fill(X, Y, ax(3, 1), shape='.', size=10, solidity=0.6)
lx, ly = [], []
for t in phiL_lines:
    lx += [t, t, None]
    ly += [-180, 180, None]
fig.add_trace(go.Scatter(x=lx, y=ly, mode='lines', line=dict(width=3, color=BLUE, dash='dot'), **ax(3, 1)))

X, Y = band_polys(phiR_outer_t, phiR_outer_lo, phiR_outer_hi)
pattern_fill(X, Y, ax(3, 2), size=11, solidity=0.4)
X, Y = band_polys(phiR_core_t, phiR_core_lo, phiR_core_hi)
pattern_fill(X, Y, ax(3, 2), size=8, solidity=0.8)
X, Y = band_polys(phiR_chaos_t, [-180, -180], [180, 180])
pattern_fill(X, Y, ax(3, 2), shape='.', size=10, solidity=0.6)
lx, ly = [], []
for t in phiR_lines:
    lx += [t, t, None]
    ly += [-180, 180, None]
fig.add_trace(go.Scatter(x=lx, y=ly, mode='lines', line=dict(width=3, color=BLUE, dash='dot'), **ax(3, 2)))

for c, (t, v) in {1: (wL_t, wL_v), 2: (wR_t, wR_v)}.items():
    X, Y = wrap_line(t, v)
    fig.add_trace(go.Scatter(x=X, y=Y, mode='lines', line=dict(width=7, color=ORANGE), **ax(3, c, True)))

# ---------------- Panel 4 ----------------
for c, (t, v) in {1: (pSL_t, pSL_v), 2: (pSR_t, pSR_v)}.items():
    X, Y = wrap_line(t, v)
    fig.add_trace(go.Scatter(x=X, y=Y, mode='lines', line=dict(width=6.5, color=BLUE), **ax(4, c)))
for c, (t, v) in {1: (pJL_t, pJL_v), 2: (pJR_t, pJR_v)}.items():
    X, Y = wrap_line(t, v)
    fig.add_trace(go.Scatter(x=X, y=Y, mode='lines', line=dict(width=6.5, color=ORANGE), **ax(4, c, True)))

# ---------------- Labels ----------------
LF = dict(family=FONT, size=48, color='black')
ann = []
left_labels = {1: '<i>a</i> (AU)', 2: '<i>e</i>', 3: '<i>φ</i>',
               4: '<i>ϖ</i><sub><i>T</i></sub> + <i>ϖ</i><sub><i>S</i></sub>'}
right_labels = {2: '180 − <i>i</i>', 3: '<i>ω</i>',
                4: '<i>ϖ</i><sub><i>T</i></sub> + <i>ϖ</i><sub><i>J</i></sub>'}
for r in range(1, 5):
    yc = sum(ydom(r)) / 2
    ann.append(dict(text=left_labels[r], x=100 / W, y=yc, xref='paper', yref='paper', showarrow=False,
                    textangle=-90, xanchor='center', yanchor='middle', font=LF))
    if r in right_labels:
        ann.append(dict(text=right_labels[r], x=3252 / W, y=yc, xref='paper', yref='paper', showarrow=False,
                        textangle=-90, xanchor='center', yanchor='middle', font=LF))
for c in (1, 2):
    ann.append(dict(text='Time (Myr)', x=sum(XDOM[c]) / 2, y=1 - 1342 / H, xref='paper', yref='paper',
                    showarrow=False, xanchor='center', yanchor='middle', font=LF))
layout['annotations'] = ann
fig.update_layout(**layout)
fig.write_html('out.html')
